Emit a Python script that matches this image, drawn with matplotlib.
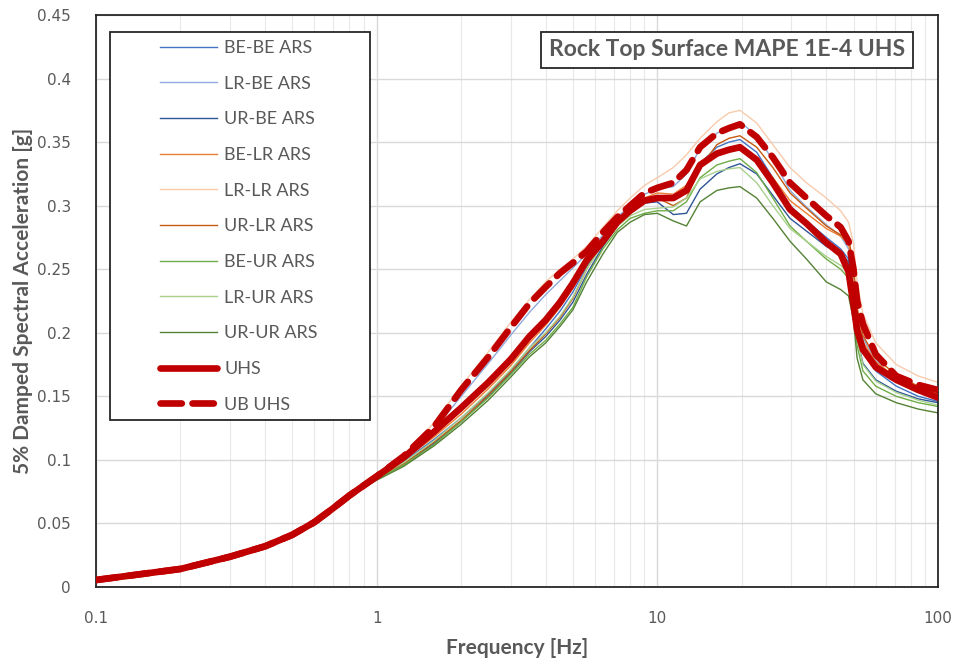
import matplotlib
matplotlib.use("Agg")
import matplotlib.pyplot as plt
from matplotlib.patches import Rectangle
from matplotlib.ticker import FixedLocator, FuncFormatter

plt.rcParams["font.family"] = ["Lato", "DejaVu Sans"]

# Frequencies [Hz]
freq = [0.1, 0.2, 0.3, 0.4, 0.5, 0.6, 0.7, 0.8,
        1.0, 1.25, 1.6, 2.0, 2.5, 3.0, 3.5, 4.0, 4.5, 5.0,
        5.6, 6.4, 7.2, 8.0, 9.0, 10.0,
        11.4, 12.7, 14.2, 16.3, 18.0, 19.7,
        22.6, 25.8, 29.7, 34.0, 40.0, 45.0,
        48.0, 50.0, 51.5, 54.0, 60.0, 71.0, 85.0, 100.0]

# Spectral accelerations [g]
be_be = [0.0055, 0.0142, 0.0238, 0.032, 0.041, 0.051, 0.062, 0.072,
         0.086, 0.099, 0.116, 0.133, 0.152, 0.170, 0.188, 0.203, 0.217, 0.232,
         0.252, 0.272, 0.287, 0.297, 0.305, 0.308,
         0.305, 0.312, 0.333, 0.346, 0.350, 0.352,
         0.342, 0.322, 0.300, 0.288, 0.275, 0.266,
         0.258, 0.236, 0.206, 0.185, 0.170, 0.158, 0.150, 0.146]
lr_be = [0.0055, 0.0142, 0.0238, 0.032, 0.041, 0.051, 0.062, 0.072,
         0.087, 0.102, 0.124, 0.150, 0.176, 0.198, 0.216, 0.230, 0.241, 0.251,
         0.262, 0.277, 0.291, 0.300, 0.309, 0.313,
         0.315, 0.325, 0.345, 0.357, 0.362, 0.366,
         0.355, 0.336, 0.312, 0.299, 0.285, 0.276,
         0.266, 0.244, 0.216, 0.196, 0.178, 0.163, 0.155, 0.151]
ur_be = [0.0055, 0.0142, 0.0238, 0.032, 0.041, 0.051, 0.062, 0.072,
         0.085, 0.097, 0.113, 0.130, 0.150, 0.168, 0.185, 0.197, 0.210, 0.224,
         0.246, 0.268, 0.284, 0.294, 0.302, 0.303,
         0.293, 0.294, 0.313, 0.325, 0.330, 0.333,
         0.325, 0.308, 0.290, 0.280, 0.268, 0.262,
         0.256, 0.230, 0.196, 0.176, 0.163, 0.154, 0.148, 0.145]
be_lr = [0.0055, 0.0142, 0.0238, 0.032, 0.041, 0.051, 0.062, 0.072,
         0.086, 0.100, 0.118, 0.136, 0.156, 0.174, 0.192, 0.206, 0.220, 0.235,
         0.255, 0.273, 0.289, 0.298, 0.306, 0.310,
         0.309, 0.316, 0.334, 0.342, 0.344, 0.345,
         0.338, 0.322, 0.304, 0.294, 0.282, 0.276,
         0.270, 0.247, 0.214, 0.193, 0.177, 0.165, 0.157, 0.152]
lr_lr = [0.0055, 0.0142, 0.0238, 0.032, 0.041, 0.051, 0.062, 0.072,
         0.087, 0.104, 0.129, 0.158, 0.185, 0.208, 0.226, 0.240, 0.250, 0.258,
         0.268, 0.283, 0.296, 0.306, 0.316, 0.322,
         0.330, 0.340, 0.353, 0.366, 0.373, 0.375,
         0.365, 0.348, 0.330, 0.318, 0.306, 0.296,
         0.287, 0.270, 0.240, 0.215, 0.192, 0.175, 0.166, 0.161]
ur_lr = [0.0055, 0.0142, 0.0238, 0.032, 0.041, 0.051, 0.062, 0.072,
         0.085, 0.097, 0.114, 0.131, 0.151, 0.169, 0.186, 0.199, 0.212, 0.227,
         0.250, 0.271, 0.287, 0.297, 0.305, 0.306,
         0.300, 0.306, 0.330, 0.348, 0.353, 0.355,
         0.346, 0.330, 0.310, 0.298, 0.284, 0.277,
         0.275, 0.252, 0.220, 0.198, 0.180, 0.167, 0.158, 0.153]
be_ur = [0.0055, 0.0142, 0.0238, 0.032, 0.041, 0.051, 0.062, 0.072,
         0.085, 0.096, 0.112, 0.130, 0.149, 0.167, 0.183, 0.194, 0.207, 0.220,
         0.244, 0.266, 0.281, 0.290, 0.294, 0.296,
         0.296, 0.303, 0.322, 0.332, 0.335, 0.337,
         0.326, 0.306, 0.284, 0.272, 0.258, 0.250,
         0.243, 0.222, 0.190, 0.170, 0.158, 0.150, 0.145, 0.142]
lr_ur = [0.0055, 0.0142, 0.0238, 0.032, 0.041, 0.051, 0.062, 0.072,
         0.086, 0.098, 0.115, 0.133, 0.153, 0.171, 0.188, 0.200, 0.213, 0.228,
         0.250, 0.270, 0.284, 0.292, 0.297, 0.298,
         0.299, 0.306, 0.321, 0.327, 0.329, 0.330,
         0.318, 0.300, 0.282, 0.272, 0.260, 0.253,
         0.247, 0.226, 0.195, 0.175, 0.162, 0.153, 0.147, 0.143]
ur_ur = [0.0055, 0.0142, 0.0238, 0.032, 0.041, 0.051, 0.062, 0.072,
         0.084, 0.095, 0.111, 0.128, 0.147, 0.165, 0.181, 0.192, 0.205, 0.218,
         0.240, 0.262, 0.279, 0.287, 0.293, 0.294,
         0.288, 0.284, 0.303, 0.312, 0.314, 0.315,
         0.306, 0.290, 0.272, 0.258, 0.240, 0.234,
         0.229, 0.210, 0.180, 0.163, 0.152, 0.145, 0.140, 0.137]
uhs = [0.0055, 0.0142, 0.0238, 0.032, 0.041, 0.051, 0.062, 0.072,
       0.087, 0.102, 0.122, 0.141, 0.161, 0.179, 0.197, 0.210, 0.224, 0.239,
       0.257, 0.272, 0.287, 0.296, 0.304, 0.306,
       0.306, 0.312, 0.332, 0.341, 0.344, 0.346,
       0.336, 0.318, 0.297, 0.286, 0.271, 0.262,
       0.248, 0.222, 0.202, 0.187, 0.173, 0.163, 0.155, 0.149]
ub_uhs = [0.0055, 0.0142, 0.0238, 0.032, 0.041, 0.051, 0.062, 0.072,
          0.087, 0.103, 0.126, 0.155, 0.181, 0.204, 0.223, 0.236, 0.247, 0.255,
          0.264, 0.279, 0.291, 0.300, 0.310, 0.314,
          0.318, 0.328, 0.346, 0.357, 0.361, 0.364,
          0.354, 0.338, 0.318, 0.306, 0.292, 0.283,
          0.272, 0.250, 0.225, 0.207, 0.183, 0.166, 0.159, 0.155]

ars_labels = ["BE-BE ARS", "LR-BE ARS", "UR-BE ARS", "BE-LR ARS", "LR-LR ARS",
              "UR-LR ARS", "BE-UR ARS", "LR-UR ARS", "UR-UR ARS"]
ars_values = [be_be, lr_be, ur_be, be_lr, lr_lr, ur_lr, be_ur, lr_ur, ur_ur]
ars_colors = ["#4472C4", "#8FAADC", "#2F5597", "#ED7D31", "#F8CBAD",
              "#C55A11", "#70AD47", "#A9D18E", "#548235"]

x_ticks = [0.1, 1, 10, 100]
y_ticks = [0, 0.05, 0.1, 0.15, 0.2, 0.25, 0.3, 0.35, 0.4, 0.45]

fig = plt.figure(figsize=(9.61, 6.67), dpi=100)
ax = fig.add_axes([96 / 961, 1 - 587 / 667, 842 / 961, 572 / 667])

for vals, lab, col in zip(ars_values, ars_labels, ars_colors):
    ax.plot(freq, vals, color=col, lw=1.0, label=lab, zorder=2)
ax.plot(freq, uhs, color="#C00000", lw=4.8, label="UHS", zorder=3,
        solid_capstyle="round", solid_joinstyle="round")
ax.plot(freq, ub_uhs, color="#C00000", lw=4.8, ls=(0, (3.2, 1.6)), label="UB UHS",
        zorder=3, dash_capstyle="round", dash_joinstyle="round")

ax.set_xscale("log")
ax.set_xlim(0.1, 100)
ax.set_ylim(0, 0.45)
ax.xaxis.set_major_locator(FixedLocator(x_ticks))
ax.xaxis.set_major_formatter(FuncFormatter(lambda v, p: f"{v:g}"))
ax.yaxis.set_major_locator(FixedLocator(y_ticks))
ax.yaxis.set_major_formatter(FuncFormatter(lambda v, p: f"{v:g}"))
ax.grid(which="major", color="#D9D9D9", lw=1.0)
ax.grid(which="minor", axis="x", color="#E8E8E8", lw=0.8)
ax.set_axisbelow(True)
ax.tick_params(which="both", length=0, labelcolor="#595959")
ax.tick_params(axis="x", pad=17)
ax.tick_params(axis="y", pad=18)
for lbl in ax.get_xticklabels() + ax.get_yticklabels():
    lbl.set_fontfamily("DejaVu Sans")
    lbl.set_fontsize(11)
for s in ax.spines.values():
    s.set_color("#262626")
    s.set_linewidth(1.3)

ax.set_xlabel("Frequency [Hz]", fontsize=15, fontweight="bold", color="#595959", labelpad=9)
ax.set_ylabel("5% Damped Spectral Acceleration [g]", fontsize=15, fontweight="bold",
              color="#595959", labelpad=3)

# legend box
ax.add_patch(Rectangle((14 / 842, (587 - 420) / 572), 260 / 842, 388 / 572,
                       transform=ax.transAxes, facecolor="white", edgecolor="#262626",
                       lw=1.3, zorder=4))
leg = ax.legend(loc="upper left", bbox_to_anchor=(64 / 842, (587 - 40) / 572),
                frameon=False, fontsize=13, labelspacing=1.09, handlelength=3.15,
                handletextpad=0.4, borderpad=0, borderaxespad=0)
leg.set_zorder(5)
for t in leg.get_texts():
    t.set_color("#595959")

ax.text((727 - 96) / 842, (587 - 50) / 572, "Rock Top Surface MAPE 1E-4 UHS",
        transform=ax.transAxes, ha="center", va="center", fontsize=16.5,
        fontweight="bold", color="#595959", zorder=6,
        bbox=dict(boxstyle="square,pad=0.33", facecolor="white", edgecolor="#262626", lw=1.3))

fig.savefig("out.png", dpi=100)
